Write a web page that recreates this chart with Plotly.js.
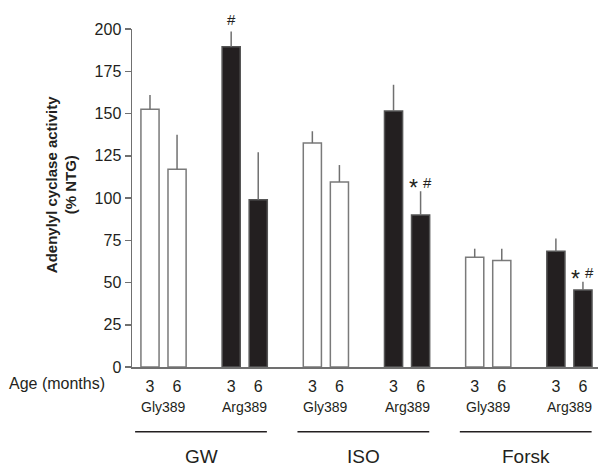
<!DOCTYPE html>
<html>
<head>
<meta charset="utf-8">
<script src="https://cdn.plot.ly/plotly-3.0.1.min.js"></script>
<style>html,body{margin:0;padding:0;background:#fff;}#chart{width:598px;height:467px;}</style>
</head>
<body>
<div id="chart"></div>
<script>
// ---- data ----
var groups = ['GW', 'ISO', 'Forsk'];
var ages = ['3', '6'];
var genotypes = ['Gly389', 'Arg389'];
// mean values per group, [age3, age6]
var glyMean = [152.5, 117, 132.5, 109.5, 65, 63];
var glyErr  = [8.5, 20.5, 7, 10, 5, 7];
var argMean = [189.5, 99, 151.5, 90, 68.5, 45.5];
var argErr  = [9, 28, 15.5, 14, 7.5, 5];
var argStar = [false, false, false, true, false, true];
var argHash = [true, false, false, true, false, true];
var yTicks = [0, 25, 50, 75, 100, 125, 150, 175, 200];

// ---- positions ----
var glyX = [], argX = [], tickX = [], tickT = [];
for (var g = 0; g < groups.length; g++) {
  for (var a = 0; a < ages.length; a++) {
    glyX.push(g * 6 + a);
    argX.push(g * 6 + 3 + a);
  }
}
var allX = glyX.concat(argX).sort(function(p, q){return p - q;});
allX.forEach(function(x){ tickX.push(x); tickT.push(ages[x % 3 === 0 ? 0 : 1]); });

var txtCol = '#231f20';
var lineCol = '#707070';
var font = 'Liberation Sans, Arial, Helvetica, sans-serif';

var traces = [
  {
    type: 'bar', x: glyX, y: glyMean, width: 0.67,
    marker: {color: '#ffffff', line: {color: '#7a7a7a', width: 1.5}},
    error_y: {type: 'data', symmetric: false, array: glyErr, arrayminus: glyErr.map(function(){return 0;}),
              color: lineCol, thickness: 1.5, width: 0},
    showlegend: false, hoverinfo: 'none'
  },
  {
    type: 'bar', x: argX, y: argMean, width: 0.67,
    marker: {color: '#231f20', line: {color: '#555555', width: 1.5}},
    error_y: {type: 'data', symmetric: false, array: argErr, arrayminus: argErr.map(function(){return 0;}),
              color: lineCol, thickness: 1.5, width: 0},
    showlegend: false, hoverinfo: 'none'
  }
];

var annotations = [];
var shapes = [];
// significance marks
for (var i = 0; i < argX.length; i++) {
  var both = argStar[i] && argHash[i];
  if (argHash[i]) {
    annotations.push({x: argX[i], y: argMean[i] + argErr[i], xref: 'x', yref: 'y', text: '#',
      showarrow: false, yanchor: 'middle', xanchor: 'center', xshift: both ? 7 : 0, yshift: both ? 9 : 12,
      font: {family: font, size: 15, color: txtCol}});
  }
  if (argStar[i]) {
    annotations.push({x: argX[i], y: argMean[i] + argErr[i], xref: 'x', yref: 'y', text: '*',
      showarrow: false, yanchor: 'middle', xanchor: 'center', xshift: -7.5, yshift: 3,
      font: {family: font, size: 23, color: txtCol}});
  }
}
// genotype labels and group lines/labels
for (var g = 0; g < groups.length; g++) {
  annotations.push({x: (glyX[2*g] + glyX[2*g+1]) / 2, y: -0.117, xref: 'x', yref: 'paper', text: genotypes[0],
    showarrow: false, xanchor: 'center', yanchor: 'middle', font: {family: font, size: 14, color: txtCol}});
  annotations.push({x: (argX[2*g] + argX[2*g+1]) / 2, y: -0.117, xref: 'x', yref: 'paper', text: genotypes[1],
    showarrow: false, xanchor: 'center', yanchor: 'middle', font: {family: font, size: 14, color: txtCol}});
  shapes.push({type: 'line', xref: 'x', yref: 'paper', x0: glyX[2*g] - 0.55, x1: argX[2*g+1] + 0.32,
    y0: -0.1914, y1: -0.1914, line: {color: txtCol, width: 1.5}});
  annotations.push({x: (glyX[2*g] - 0.55 + argX[2*g+1] + 0.32) / 2, y: -0.266, xref: 'x', yref: 'paper', text: groups[g],
    showarrow: false, xanchor: 'center', yanchor: 'middle', font: {family: font, size: 19, color: txtCol}});
}
annotations.push({x: 0, y: 0, xref: 'paper', yref: 'paper', text: 'Age (months)', showarrow: false,
  xanchor: 'right', yanchor: 'middle', xshift: -25, yshift: -16, font: {family: font, size: 16, color: txtCol}});
annotations.push({x: 0, y: 0.538, xref: 'paper', yref: 'paper', text: '<b>Adenylyl cyclase activity</b><br><b>(% NTG)</b>',
  showarrow: false, textangle: -90, xanchor: 'center', yanchor: 'middle', xshift: -71,
  font: {family: font, size: 15, color: txtCol}});

var layout = {
  width: 598, height: 467,
  margin: {l: 132, r: 0, t: 29, b: 100, pad: 0},
  paper_bgcolor: '#ffffff', plot_bgcolor: '#ffffff',
  bargap: 0, barmode: 'overlay',
  xaxis: {range: [-0.665, 16.556], showgrid: false, zeroline: false, showline: true, linecolor: lineCol, linewidth: 1.5,
    tickmode: 'array', tickvals: tickX, ticktext: tickT, ticks: 'outside', ticklen: 4, tickcolor: 'rgba(0,0,0,0)',
    tickfont: {family: font, size: 16, color: txtCol}, fixedrange: true},
  yaxis: {range: [0, 200], showgrid: false, zeroline: false, showline: true, linecolor: lineCol, linewidth: 1.5,
    tickmode: 'array', tickvals: yTicks, ticks: 'outside', ticklen: 6, tickwidth: 1.5, tickcolor: lineCol,
    tickfont: {family: font, size: 16, color: txtCol}, fixedrange: true},
  annotations: annotations,
  shapes: shapes
};

Plotly.newPlot('chart', traces, layout, {staticPlot: true, displayModeBar: false});
</script>
</body>
</html>
